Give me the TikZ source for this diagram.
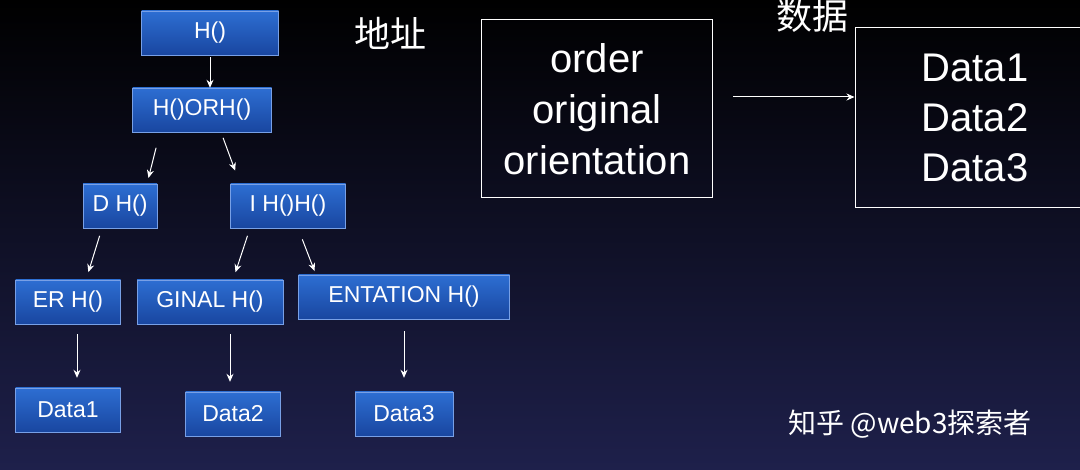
\documentclass[tikz,border=0pt]{standalone}
\usepackage{fontspec}
\setmainfont{Liberation Sans}
\newfontfamily\cjk{Noto Sans CJK SC}
\usetikzlibrary{positioning,arrows.meta}
\definecolor{boxtop}{RGB}{45,110,210}
\definecolor{boxbot}{RGB}{25,70,160}
\definecolor{bgbot}{RGB}{30,32,75}
\tikzset{
  hbox/.style={draw={rgb,255:red,120;green,160;blue,230},top color=boxtop,bottom color=boxbot,
    text=white,font=\fontsize{23}{26}\selectfont,minimum height=44pt,inner xsep=6pt},
  arr/.style={-{Stealth[length=8pt,width=7pt]},white,line width=1pt},
  big/.style={text=white,font=\fontsize{40}{44}\selectfont}
}
\begin{document}
\begin{tikzpicture}[x=1pt,y=1pt,yscale=-1]
%background
\shade[top color=black,bottom color=bgbot] (0,0) rectangle (1080,470);
\useasboundingbox (0,0) rectangle (1080,470);

%tree of hashes
\node[hbox,minimum width=137pt] (h) at (210,33) {H()};
\node[hbox,minimum width=139pt] (hor) at (202,110) {H()ORH()};
\node[hbox,minimum width=74pt] (dh) at (120,206) {D H()};
\node[hbox,minimum width=115pt] (ih) at (288,206) {I H()H()};
\node[hbox,minimum width=105pt] (er) at (68,302) {ER H()};
\node[hbox,minimum width=146pt] (ginal) at (210,302) {GINAL H()};
\node[hbox,minimum width=211pt] (entation) at (404,297) {ENTATION H()};
\node[hbox,minimum width=105pt] (d1) at (68,410) {Data1};
\node[hbox,minimum width=95pt] (d2) at (233,414) {Data2};
\node[hbox,minimum width=98pt] (d3) at (404,414) {Data3};

\draw[arr] (h.south) ++(0,2) coordinate (a1) -- (a1 |- hor.north);
\draw[arr,shorten <=16pt,shorten >=6pt] (hor.south-|160,0) -- (dh.north-|147,0);
\draw[arr,shorten <=6pt,shorten >=14pt] (hor.south-|221,0) -- (ih.north-|240,0);
\draw[arr,shorten <=8pt,shorten >=8pt] (dh.south-|102,0) -- (er.north-|86,0);
\draw[arr,shorten <=8pt,shorten >=8pt] (ih.south-|250,0) -- (ginal.north-|233,0);
\draw[arr,shorten <=12pt,shorten >=4pt] (ih.south-|298,0) -- (entation.north-|316,0);
\draw[arr,shorten <=10pt,shorten >=10pt] (er.south-|77,0) -- (d1.north-|77,0);
\draw[arr,shorten <=10pt,shorten >=10pt] (ginal.south-|230,0) -- (d2.north-|230,0);
\draw[arr,shorten <=12pt,shorten >=14pt] (entation.south) -- (d3.north);

%address and data
\node[big,font=\cjk\fontsize{36}{40}\selectfont] (addr) at (390,33) {地址};
\node[big,draw=white,line width=1pt,minimum width=231pt,minimum height=178pt,align=center,
  font=\fontsize{40}{51}\selectfont] (key) at (597,109) {order\\original\\orientation};
\node[big,font=\cjk\fontsize{36}{40}\selectfont] (shuju) at (812,16) {数据};
\node[big,draw=white,line width=1pt,minimum width=240pt,minimum height=180pt,align=center,
  font=\fontsize{40}{50}\selectfont] (val) at (975,118) {Data1\\Data2\\Data3};
\draw[arr] (key.east) ++(20,-12) coordinate (a2) -- (a2 -| val.west);

%watermark
\node[text=white,font=\cjk\fontsize{28}{32}\selectfont] (wm) at (910,424) {知乎 @web3探索者};
\end{tikzpicture}
\end{document}
